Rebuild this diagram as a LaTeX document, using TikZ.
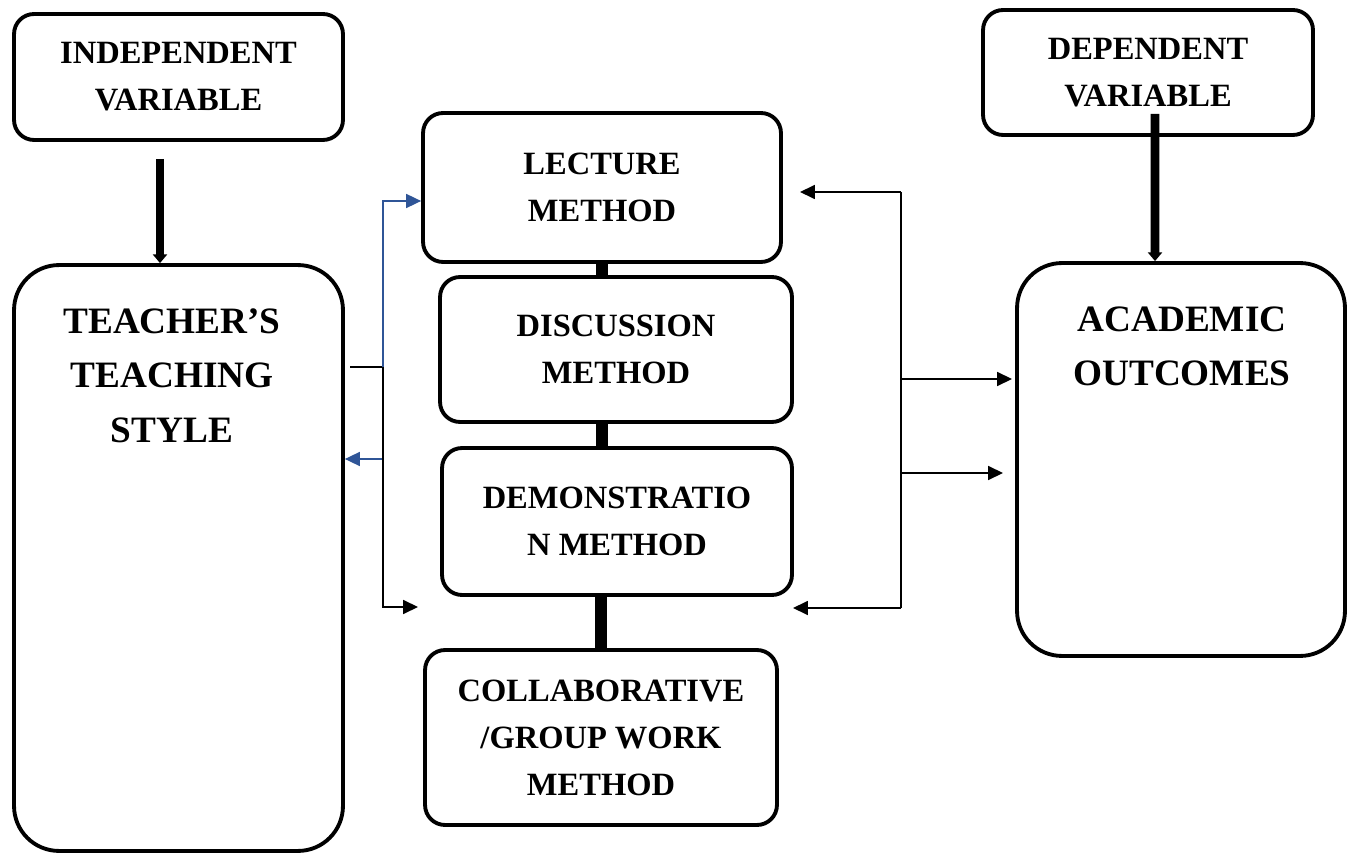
\documentclass[tikz,border=0pt]{standalone}
\usepackage{fontspec}
\setmainfont{Liberation Serif}
\usetikzlibrary{arrows.meta, positioning}
\definecolor{LinkBlue}{HTML}{2F5597}

\begin{document}
\begin{tikzpicture}[x=0.02cm, y=-0.02cm,
        varbox/.style={draw, line width=2.2pt, rounded corners=0.4cm, align=center, inner sep=0pt,
            font=\fontsize{18.5}{26.7}\selectfont\bfseries},
        bigbox/.style={draw, line width=2.2pt, rounded corners=0.9cm, inner sep=0pt},
        bigtext/.style={align=center, inner sep=0pt, anchor=north,
            font=\fontsize{21.2}{31.2}\selectfont\bfseries},
        thickarrow/.style={line width=5pt, -{Triangle[length=5pt, width=8pt]}},
        joint/.style={line width=6.5pt},
        wire/.style={line width=0.8pt},
        link/.style={wire, -{Triangle[length=8.5pt, width=8pt]}}
    ]

    \useasboundingbox (0,0) rectangle (1351,854);

    % variables
    \node[varbox, minimum width=6.58cm, minimum height=2.52cm] (iv) at (178.5,77) {INDEPENDENT\\VARIABLE};
    \node[varbox, minimum width=6.6cm, minimum height=2.5cm] (dv) at (1148,72.5) {DEPENDENT\\VARIABLE};

    \node[bigbox, minimum width=6.58cm, minimum height=11.72cm] (tts) at (178.5,558) {};
    \node[bigtext] (ttstext) at (172,308) {TEACHER'S\\TEACHING\\STYLE};

    \node[bigbox, minimum width=6.56cm, minimum height=7.86cm] (ao) at (1181,459.5) {};
    \node[bigtext] (aotext) at (1182,306) {ACADEMIC\\OUTCOMES};

    % methods
    \node[varbox, minimum width=7.16cm, minimum height=2.98cm] (lm) at (602,187.5) {LECTURE\\METHOD};
    \node[varbox, minimum width=7.04cm, minimum height=2.9cm] (dm) at (616,349.5) {DISCUSSION\\METHOD};
    \node[varbox, minimum width=7cm, minimum height=2.94cm] (dem) at (617,521.5) {DEMONSTRATIO\\N METHOD};
    \node[varbox, minimum width=7.04cm, minimum height=3.5cm] (cm) at (601,737.5) {COLLABORATIVE\\/GROUP WORK\\METHOD};

    \draw[thickarrow] ([xshift=-0.37cm, yshift=-0.34cm]iv.south) -- ([xshift=-0.37cm]tts.north);
    \draw[thickarrow] ([xshift=0.14cm, yshift=0.46cm]dv.south) -- ([xshift=-0.52cm]ao.north);

    \draw[joint] (lm.south) -- (lm.south |- dm.north);
    \draw[joint] (dm.south -| lm.south) -- (dem.north -| lm.south);
    \draw[joint] (dem.south -| cm.north) -- (cm.north);

    % left branch
    \coordinate (tap) at (350,367);
    \coordinate (lsplit) at (383,367);
    \coordinate (lback) at (383,459);
    \coordinate (lend) at (418,607);
    \draw[wire] (tap) -- (lsplit);
    \draw[link, LinkBlue] (lsplit) |- ([yshift=-0.27cm]lm.west);
    \draw[link, LinkBlue] (lback) -- (lback -| tts.east);
    \draw[link] (lsplit) |- (lend);

    % right branch
    \coordinate (rtop) at (901,192);
    \coordinate (rbot) at (901,608);
    \coordinate (rtopend) at (800,192);
    \coordinate (rbotend) at (793,608);
    \coordinate (ra) at (901,379);
    \coordinate (raend) at (1012,379);
    \coordinate (rb) at (901,473);
    \coordinate (rbend) at (1003,473);
    \draw[wire] (rtop) -- (rbot);
    \draw[link] (rtop) -- (rtopend);
    \draw[link] (rbot) -- (rbotend);
    \draw[link] (ra) -- (raend);
    \draw[link] (rb) -- (rbend);

\end{tikzpicture}
\end{document}
